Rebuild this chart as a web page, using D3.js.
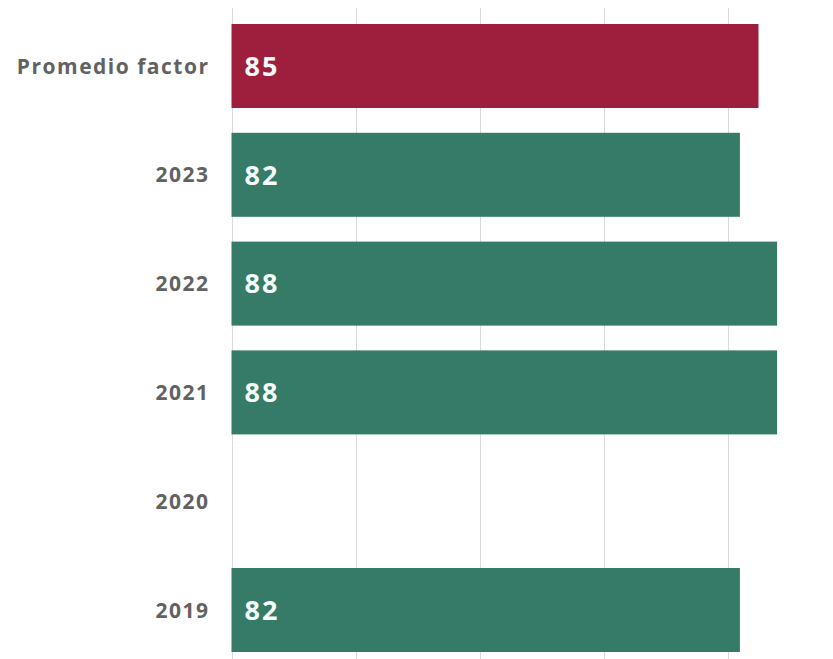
<!DOCTYPE html>
<html><head><meta charset="utf-8">
<script src="https://cdn.jsdelivr.net/npm/d3@7"></script>
<style>
body{margin:0;background:#fff;}
</style></head>
<body><svg id="c" width="833" height="659"></svg>
<script>
const categories = ["Promedio factor","2023","2022","2021","2020","2019"];
const values = [85, 82, 88, 88, null, 82];
const gridTicks = [0, 20, 40, 60, 80];

const svg = d3.select("#c");
const x = d3.scaleLinear().domain([0, 80]).range([231.5, 727.5]);
const y = d3.scaleBand().domain(categories).range([11.6, 664.4]).paddingInner(0.228).paddingOuter(0.114);

svg.append("g").selectAll("line").data(gridTicks).join("line")
  .attr("x1", d => Math.round(x(d)) + 0.5).attr("x2", d => Math.round(x(d)) + 0.5)
  .attr("y1", 8).attr("y2", 659)
  .attr("stroke", "#d9d9d9").attr("stroke-width", 1);

const data = categories.map((c, i) => ({c, v: values[i], i}));

svg.append("g").selectAll("rect").data(data.filter(d => d.v != null)).join("rect")
  .attr("x", x(0)).attr("y", d => y(d.c))
  .attr("width", d => x(d.v) - x(0)).attr("height", y.bandwidth())
  .attr("fill", d => d.i === 0 ? "#9e1f3d" : "#367b67");

svg.append("g").selectAll("text").data(data.filter(d => d.v != null)).join("text")
  .attr("x", x(0) + 13).attr("y", d => y(d.c) + y.bandwidth()/2)
  .attr("dy", "0.36em")
  .attr("fill", "#f4fbf8")
  .attr("font-family", "'Open Sans', sans-serif").attr("font-weight", 700)
  .attr("font-size", 27).attr("letter-spacing", 2)
  .text(d => d.v);

const ls = 1.5;
svg.append("g").selectAll("text").data(categories).join("text")
  .attr("x", 208 + ls).attr("y", d => y(d) + y.bandwidth()/2)
  .attr("dy", "0.36em").attr("text-anchor", "end")
  .attr("fill", "#626262")
  .attr("font-family", "'Open Sans', sans-serif").attr("font-weight", 700)
  .attr("font-size", 21).attr("letter-spacing", ls)
  .text(d => d);
</script>
</body></html>
